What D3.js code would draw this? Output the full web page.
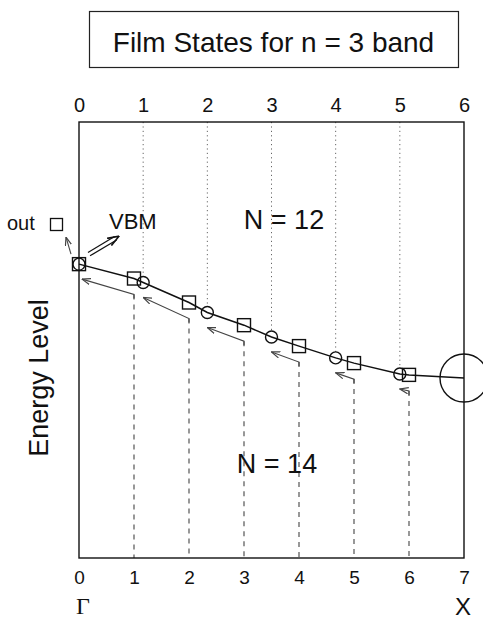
<!DOCTYPE html>
<html>
<head>
<meta charset="utf-8">
<script src="https://cdn.jsdelivr.net/npm/d3@7"></script>
<style>
body { margin: 0; background: #fff; }
text { font-family: "Liberation Sans", Arial, sans-serif; fill: #111; }
</style>
</head>
<body>
<div id="chart"></div>
<script>
// film states: N = 14 slab (squares) and N = 12 slab (circles)
var n14Index = [0, 1, 2, 3, 4, 5, 6];
var n14Energy = [6.74, 6.41, 5.86, 5.34, 4.86, 4.47, 4.20];
var n12Index = [0, 1, 2, 3, 4, 5, 6];
var n12Energy = [6.74, 6.32, 5.63, 5.07, 4.59, 4.22, 4.13];

// tick labels
var topTicks = [0, 1, 2, 3, 4, 5, 6];
var bottomTicks = [0, 1, 2, 3, 4, 5, 6, 7];
var titleText = "Film States for n = 3 band";

var margin = {top: 122, right: 19, bottom: 63, left: 79},
    width = 483 - margin.left - margin.right,
    height = 621 - margin.top - margin.bottom;

var svg = d3.select("#chart").append("svg")
  .attr("width", width + margin.left + margin.right)
  .attr("height", height + margin.top + margin.bottom);

var defs = svg.append("defs");
function addMarker(id, color, size) {
  defs.append("marker")
    .attr("id", id)
    .attr("markerUnits", "userSpaceOnUse")
    .attr("viewBox", "0 0 10 8")
    .attr("refX", 9.5).attr("refY", 4)
    .attr("markerWidth", size).attr("markerHeight", size * 0.8)
    .attr("orient", "auto")
    .append("path")
    .attr("d", "M0,0.5 L9.5,4 L0,7.5")
    .attr("fill", "none")
    .attr("stroke", color)
    .attr("stroke-width", 1.3);
}
addMarker("headGray", "#444", 9);
addMarker("headBlack", "#111", 12);

// title box
svg.append("rect")
  .attr("x", 89.5).attr("y", 11.5)
  .attr("width", 369).attr("height", 56)
  .attr("fill", "none").attr("stroke", "#222").attr("stroke-width", 1.2);
svg.append("text")
  .attr("x", 273.5).attr("y", 52)
  .attr("text-anchor", "middle")
  .attr("font-size", 28)
  .text(titleText);

var chartArea = svg.append("g")
  .attr("transform", "translate(" + margin.left + "," + margin.top + ")");

// scales
var x14 = d3.scaleLinear().domain([0, 7]).range([0, width]);
var x12 = d3.scaleLinear().domain([0, 6]).range([0, width]);
var yScale = d3.scaleLinear().domain([0, 10]).range([height, 0]);

var squares = n14Index.map(function(i, k) { return {x: x14(i), y: yScale(n14Energy[k]), i: i}; });
var circles = n12Index.map(function(j, k) { return {x: x12(j), y: yScale(n12Energy[k]), j: j}; });

var tailOffset = 16, headOffset = 15, smallR = 6, bigR = 24;

// dotted guides for N = 12, from top down to each circle
chartArea.selectAll(".dot12")
  .data(circles.filter(function(d) { return d.j > 0 && d.j < 6; }))
  .enter().append("line")
  .attr("x1", function(d) { return d.x; }).attr("x2", function(d) { return d.x; })
  .attr("y1", 0).attr("y2", function(d) { return d.y - smallR; })
  .attr("stroke", "#666").attr("stroke-width", 1)
  .attr("stroke-dasharray", "1.2,3.2");

// dashed guides for N = 14, from below each square down to the bottom
chartArea.selectAll(".dash14")
  .data(squares.filter(function(d) { return d.i > 0; }))
  .enter().append("line")
  .attr("x1", function(d) { return d.x; }).attr("x2", function(d) { return d.x; })
  .attr("y1", function(d) { return d.y + tailOffset; }).attr("y2", height)
  .attr("stroke", "#444").attr("stroke-width", 1.1)
  .attr("stroke-dasharray", "5,5");

// frame
chartArea.append("rect")
  .attr("width", width).attr("height", height)
  .attr("fill", "none").attr("stroke", "#111").attr("stroke-width", 1.4);

// band curve through all film states
var bandPoints = squares.concat(circles.slice(1)).sort(function(a, b) { return a.x - b.x; });
var bandLine = d3.line().x(function(d) { return d.x; }).y(function(d) { return d.y; });
chartArea.append("path")
  .datum(bandPoints)
  .attr("d", bandLine)
  .attr("fill", "none").attr("stroke", "#111").attr("stroke-width", 1.5);

// gray arrows: each N = 14 state moves to the N = 12 slot on its left
var shifts = squares.slice(1).map(function(s, k) { return {from: s, to: circles[k]}; });
chartArea.selectAll(".shift")
  .data(shifts)
  .enter().append("path")
  .attr("d", function(d) {
    return "M" + d.from.x + "," + (d.from.y + tailOffset + 4) +
      "L" + d.from.x + "," + (d.from.y + tailOffset) +
      "L" + (d.to.x + (d.to.j === 0 ? 3 : 0)) + "," + (d.to.y + headOffset);
  })
  .attr("fill", "none").attr("stroke", "#444").attr("stroke-width", 1.1)
  .attr("marker-end", "url(#headGray)");

// squares (N = 14)
var sq = 13;
chartArea.selectAll(".sq")
  .data(squares)
  .enter().append("rect")
  .attr("x", function(d) { return d.x - sq / 2; })
  .attr("y", function(d) { return d.y - sq / 2; })
  .attr("width", sq).attr("height", sq)
  .attr("fill", "none").attr("stroke", "#111").attr("stroke-width", 1.4);

// circles (N = 12), big one at X
chartArea.selectAll(".circ")
  .data(circles)
  .enter().append("circle")
  .attr("cx", function(d) { return d.x; })
  .attr("cy", function(d) { return d.y; })
  .attr("r", function(d) { return d.j === 6 ? bigR : smallR; })
  .attr("fill", "none").attr("stroke", "#111").attr("stroke-width", 1.4);

// axes
var topAxis = chartArea.append("g")
  .call(d3.axisTop(x12).tickValues(topTicks).tickFormat(d3.format("d")).tickSize(0).tickPadding(10));
topAxis.select(".domain").remove();
topAxis.selectAll("text").attr("font-size", 20).attr("font-family", null).attr("fill", "#111");

var bottomAxis = chartArea.append("g")
  .attr("transform", "translate(0," + height + ")")
  .call(d3.axisBottom(x14).tickValues(bottomTicks).tickFormat(d3.format("d")).tickSize(0).tickPadding(13));
bottomAxis.select(".domain").remove();
bottomAxis.selectAll("text").attr("font-size", 19).attr("font-family", null).attr("fill", "#111");

// Gamma and X labels
chartArea.append("text")
  .attr("x", x14(0) + 4).attr("y", height + 56)
  .attr("text-anchor", "middle")
  .attr("font-size", 24)
  .style("font-family", "'Liberation Serif', 'Times New Roman', serif")
  .text("Γ");
chartArea.append("text")
  .attr("x", x14(7) - 1).attr("y", height + 57)
  .attr("text-anchor", "middle")
  .attr("font-size", 24)
  .text("X");

// y axis label
svg.append("text")
  .attr("transform", "translate(48,378) rotate(-90)")
  .attr("text-anchor", "middle")
  .attr("font-size", 27)
  .text("Energy Level");

// N labels
chartArea.append("text")
  .attr("x", 205).attr("y", 107)
  .attr("text-anchor", "middle").attr("font-size", 27)
  .text("N = 12");
chartArea.append("text")
  .attr("x", 198).attr("y", 351)
  .attr("text-anchor", "middle").attr("font-size", 27)
  .text("N = 14");

// VBM annotation
var vbm = squares[0];
chartArea.append("text")
  .attr("x", 30).attr("y", 107)
  .attr("font-size", 22)
  .text("VBM");
var a0 = [vbm.x + 10, vbm.y - 10], a1 = [vbm.x + 40, vbm.y - 28];
var dx = a1[0] - a0[0], dy = a1[1] - a0[1], len = Math.sqrt(dx * dx + dy * dy);
var nx = -dy / len * 2, ny = dx / len * 2;
[-1, 1].forEach(function(s) {
  chartArea.append("line")
    .attr("x1", a0[0] + s * nx).attr("y1", a0[1] + s * ny)
    .attr("x2", a1[0] - dx / len * 4 + s * nx).attr("y2", a1[1] - dy / len * 4 + s * ny)
    .attr("stroke", "#111").attr("stroke-width", 1.2);
});
chartArea.append("line")
  .attr("x1", a1[0] - dx / len * 2).attr("y1", a1[1] - dy / len * 2)
  .attr("x2", a1[0]).attr("y2", a1[1])
  .attr("stroke", "none")
  .attr("marker-end", "url(#headBlack)");

// "out" state annotation
chartArea.append("text")
  .attr("x", -72).attr("y", 108)
  .attr("font-size", 20)
  .text("out");
chartArea.append("rect")
  .attr("x", -28.5).attr("y", 96.5)
  .attr("width", 12).attr("height", 12)
  .attr("fill", "none").attr("stroke", "#111").attr("stroke-width", 1.3);
chartArea.append("line")
  .attr("x1", vbm.x - 8).attr("y1", vbm.y - 10)
  .attr("x2", vbm.x - 13).attr("y2", vbm.y - 27)
  .attr("stroke", "#444").attr("stroke-width", 1.1)
  .attr("marker-end", "url(#headGray)");
</script>
</body>
</html>
